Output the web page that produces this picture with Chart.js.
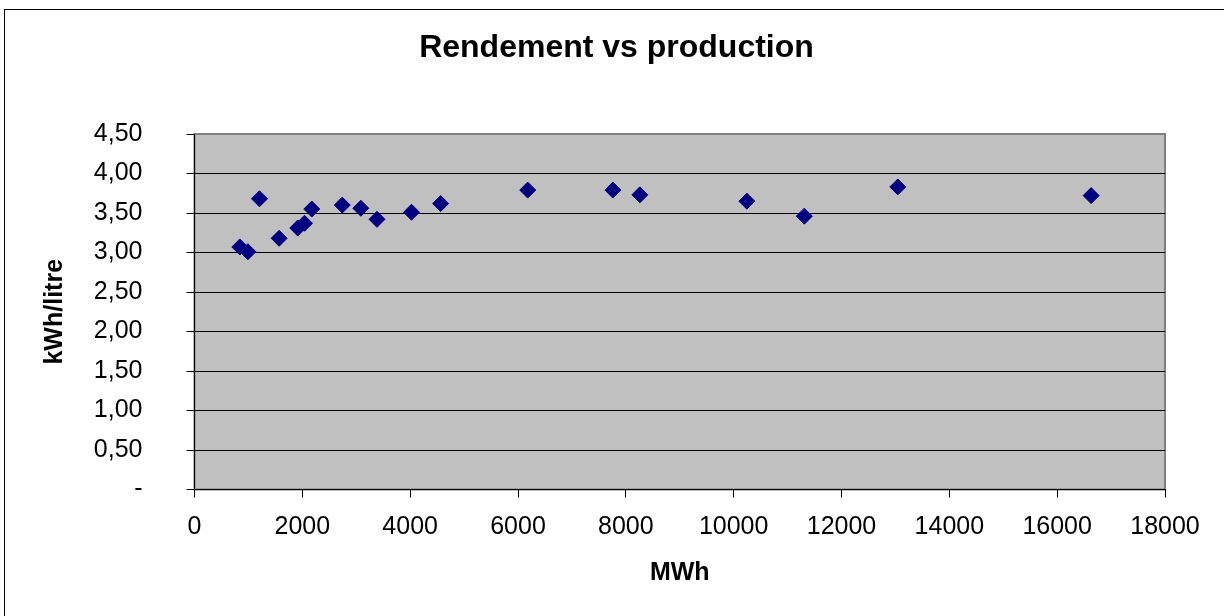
<!DOCTYPE html>
<html>
<head>
<meta charset="utf-8">
<script src="https://cdn.jsdelivr.net/npm/chart.js@4.4.1/dist/chart.umd.min.js"></script>
<style>
  html, body { margin: 0; padding: 0; background: #fff; overflow: hidden; }
  #frame { position: absolute; left: 4px; top: 9px; width: 1400px; height: 800px; border: 1px solid #000; box-sizing: border-box; }
  #wrap { position: absolute; left: 0; top: 0; width: 1224px; height: 616px; }
</style>
</head>
<body>
<div id="frame"></div>
<div id="wrap"><canvas id="c" width="1224" height="616"></canvas></div>
<script>
const chartTitle = 'Rendement vs production';
const xAxisTitle = 'MWh';
const yAxisTitle = 'kWh/litre';
const production = [840, 990, 1205, 1570, 1915, 2040, 2175, 2740, 3085, 3385, 4025, 4565, 6180, 7760, 8260, 10245, 11310, 13045, 16630];
const rendement  = [3.07, 3.01, 3.68, 3.18, 3.31, 3.37, 3.55, 3.60, 3.56, 3.42, 3.51, 3.62, 3.79, 3.79, 3.73, 3.65, 3.46, 3.83, 3.72];
const xTicks = [0, 2000, 4000, 6000, 8000, 10000, 12000, 14000, 16000, 18000];
const yTicks = [0, 0.5, 1, 1.5, 2, 2.5, 3, 3.5, 4, 4.5];

const points = production.map((x, i) => ({ x: x, y: rendement[i] }));
const FONT = 'Arial, "Liberation Sans", sans-serif';

const plotBg = {
  id: 'plotBg',
  beforeDraw(chart) {
    const { ctx, chartArea: a } = chart;
    ctx.save();
    ctx.fillStyle = '#C0C0C0';
    ctx.fillRect(a.left, a.top, a.right - a.left, a.bottom - a.top);
    ctx.strokeStyle = '#808080';
    ctx.lineWidth = 2;
    ctx.strokeRect(a.left, a.top, a.right - a.left, a.bottom - a.top);
    ctx.restore();
  }
};

new Chart(document.getElementById('c'), {
  type: 'scatter',
  data: {
    datasets: [{
      label: 'Rendement',
      data: points,
      pointStyle: 'rectRot',
      pointRadius: 8,
      pointHoverRadius: 8,
      pointBackgroundColor: '#000080',
      pointBorderColor: '#000080',
      pointBorderWidth: 1
    }]
  },
  options: {
    responsive: false,
    animation: false,
    layout: { padding: { left: 9, right: 0, top: 0, bottom: 28 } },
    plugins: {
      legend: { display: false },
      tooltip: { enabled: false },
      title: {
        display: true,
        text: chartTitle,
        color: '#000',
        font: { family: FONT, size: 32, weight: 'bold' },
        padding: { top: 29, bottom: 66.6 }
      }
    },
    scales: {
      x: {
        type: 'linear',
        min: xTicks[0],
        max: xTicks[xTicks.length - 1],
        afterBuildTicks: s => { s.ticks = xTicks.map(v => ({ value: v })); },
        afterFit: s => { s.height = 98.5; },
        ticks: {
          color: '#000',
          font: { family: FONT, size: 25 },
          padding: 14.5,
          maxRotation: 0,
          autoSkip: false,
          callback: v => String(v)
        },
        grid: { display: true, drawOnChartArea: false, drawTicks: true, tickLength: 8, color: '#000', tickColor: '#000' },
        border: { display: true, color: '#000', width: 1 },
        title: {
          display: true,
          text: xAxisTitle,
          color: '#000',
          font: { family: FONT, size: 25, weight: 'bold' },
          padding: { top: 0, bottom: 0 }
        }
      },
      y: {
        type: 'linear',
        position: 'left',
        min: yTicks[0],
        max: yTicks[yTicks.length - 1],
        afterBuildTicks: s => { s.ticks = yTicks.map(v => ({ value: v })); },
        afterFit: s => { s.width = 185.5; },
        ticks: {
          color: '#000',
          font: { family: FONT, size: 25 },
          padding: 44,
          autoSkip: false,
          callback: v => v === 0 ? '-' : v.toFixed(2).replace('.', ',')
        },
        grid: {
          display: true,
          drawTicks: true,
          tickLength: 8,
          color: c => (c.tick && c.tick.value === 4.5) ? '#808080' : '#000',
          tickColor: '#000',
          lineWidth: 1
        },
        border: { display: true, color: '#000', width: 1 },
        title: {
          display: true,
          text: yAxisTitle,
          color: '#000',
          font: { family: FONT, size: 25, weight: 'bold' },
          padding: { top: 31, bottom: 0 }
        }
      },
      yRight: {
        type: 'linear',
        position: 'right',
        display: true,
        afterFit: s => { s.width = 59; },
        ticks: { display: false },
        grid: { display: false, drawOnChartArea: false },
        border: { display: false },
        title: { display: false }
      }
    }
  },
  plugins: [plotBg]
});
</script>
</body>
</html>
